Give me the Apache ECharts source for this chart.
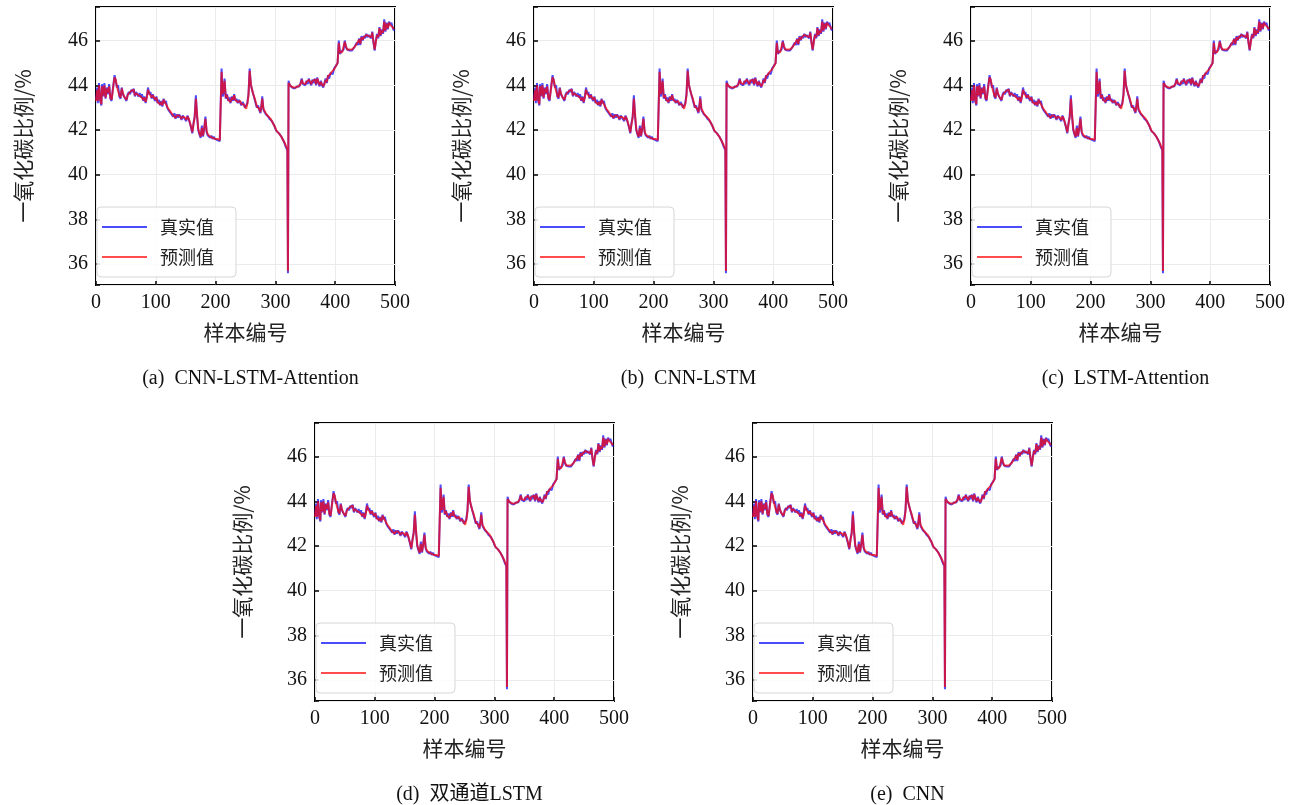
<!DOCTYPE html>
<html>
<head>
<meta charset="utf-8">
<script src="https://cdn.jsdelivr.net/npm/echarts@6/dist/echarts.min.js"></script>
<style>
  html, body { margin: 0; padding: 0; background: #fff; }
  #main { width: 1303px; height: 805px; }
</style>
</head>
<body>
<div id="main"></div>
<script>
// 数据：样本编号、真实值、预测值
var sampleNo = [
  0, 2, 3, 5, 7, 9, 10, 12, 14, 16,
  18, 20, 22, 24, 26, 28, 31, 33, 35, 37,
  39, 41, 43, 45, 47, 49, 51, 53, 55, 57,
  59, 61, 63, 65, 67, 69, 71, 73, 75, 77,
  79, 81, 83, 85, 87, 89, 91, 93, 95, 97,
  99, 101, 103, 105, 107, 109, 111, 113, 115, 117,
  119, 121, 123, 125, 127, 129, 131, 133, 135, 137,
  139, 141, 143, 145, 147, 149, 151, 153, 155, 157,
  159, 161, 163, 165, 167, 169, 171, 173, 175, 177,
  179, 181, 183, 185, 187, 189, 191, 193, 195, 197,
  199, 201, 203, 205, 207, 209, 210, 212, 214, 215,
  217, 219, 221, 223, 225, 227, 229, 231, 233, 235,
  237, 239, 241, 243, 245, 247, 249, 251, 253, 255,
  257, 259, 261, 263, 265, 267, 269, 271, 273, 275,
  277, 278, 280, 282, 284, 286, 288, 290, 292, 294,
  296, 298, 300, 302, 304, 306, 308, 310, 312, 314,
  316, 318, 320, 321, 322, 324, 326, 328, 330, 332,
  334, 336, 338, 340, 342, 344, 346, 348, 350, 352,
  354, 356, 358, 360, 362, 364, 366, 368, 370, 372,
  374, 376, 378, 380, 382, 384, 386, 388, 390, 392,
  394, 396, 398, 400, 402, 404, 406, 408, 410, 412,
  414, 416, 418, 420, 422, 424, 426, 428, 430, 432,
  434, 436, 438, 440, 442, 444, 446, 448, 450, 452,
  454, 456, 458, 460, 462, 464, 466, 468, 470, 472,
  474, 476, 478, 480, 482, 484, 486, 488, 490, 492,
  494, 496, 498, 499
];

var actualCO = [
  43.35, 43.9, 43.2, 44.1, 43.3, 43.1, 44.05, 43.5, 44.1, 43.4,
  43.9, 43.6, 44.05, 43.4, 43.3, 43.8, 44.45, 44.2, 43.9, 44.0,
  43.5, 43.4, 43.9, 43.6, 43.5, 43.4, 43.3, 43.6, 43.7, 43.6,
  43.8, 43.7, 43.85, 43.5, 43.7, 43.6, 43.5, 43.65, 43.45, 43.6,
  43.3, 43.5, 43.2, 43.5, 43.9, 43.6, 43.7, 43.4, 43.6, 43.4,
  43.3, 43.5, 43.2, 43.35, 43.1, 43.3, 43.05, 43.4, 43.2, 43.3,
  43.0, 42.9, 42.95, 42.75, 42.8, 42.6, 42.75, 42.5, 42.7, 42.55,
  42.7, 42.6, 42.45, 42.65, 42.55, 42.6, 42.4, 42.65, 42.5, 42.3,
  42.1, 41.85, 42.3, 42.6, 43.55, 42.6, 42.0, 41.8, 41.65, 42.2,
  41.7, 42.1, 42.6, 41.9, 41.75, 41.8, 41.65, 41.75, 41.6, 41.7,
  41.6, 41.65, 41.55, 41.6, 41.5, 41.45, 44.75, 43.5, 43.7, 44.3,
  43.4, 43.6, 43.3, 43.45, 43.2, 43.5, 43.3, 43.6, 43.3, 43.4,
  43.2, 43.35, 43.3, 43.1, 43.25, 43.15, 43.0, 42.95, 43.2, 43.6,
  44.75, 44.0, 43.8, 43.6, 43.4, 43.2, 43.0, 43.1, 42.9, 42.75,
  43.2, 43.5, 42.9, 42.95, 42.7, 42.75, 42.6, 42.5, 42.5, 42.4,
  42.3, 42.2, 42.05, 41.95, 41.9, 41.85, 41.8, 41.7, 41.6, 41.5,
  41.35, 41.2, 41.1, 35.6, 44.2, 44.0, 43.95, 43.9, 43.9, 43.85,
  43.9, 43.95, 44.0, 43.95, 44.1, 44.3, 44.05, 44.1, 44.0, 44.2,
  44.05, 44.3, 44.1, 44.0, 44.25, 44.1, 44.3, 44.0, 44.35, 44.1,
  43.95, 44.2, 44.0, 43.9, 44.1, 44.3, 44.1, 44.45, 44.3, 44.55,
  44.6, 44.5, 44.75, 44.8, 44.9, 45.0, 46.0, 45.4, 45.5, 45.45,
  45.6, 46.0, 45.7, 45.6, 45.65, 45.55, 45.6, 45.55, 45.6, 45.7,
  45.75, 45.9, 45.8, 46.1, 45.8, 46.2, 46.0, 46.2, 46.1, 46.3,
  46.15, 46.25, 46.3, 46.1, 46.4, 45.9, 45.55, 46.0, 46.3, 46.1,
  46.6, 46.2, 46.5, 46.3, 46.95, 46.4, 46.8, 46.5, 46.85, 46.7,
  46.8, 46.6, 46.45, 46.5
];

var predictedCO = [
  43.3, 43.8, 43.3, 44.0, 43.35, 43.15, 43.95, 43.55, 44.0, 43.45,
  43.85, 43.65, 43.95, 43.45, 43.35, 43.75, 44.35, 44.25, 43.95, 43.95,
  43.55, 43.45, 43.85, 43.65, 43.5, 43.45, 43.35, 43.55, 43.65, 43.6,
  43.75, 43.7, 43.8, 43.55, 43.65, 43.6, 43.55, 43.6, 43.5, 43.55,
  43.35, 43.45, 43.25, 43.45, 43.8, 43.65, 43.65, 43.45, 43.55, 43.45,
  43.35, 43.45, 43.25, 43.3, 43.15, 43.25, 43.1, 43.35, 43.25, 43.25,
  43.05, 42.95, 42.9, 42.8, 42.75, 42.65, 42.7, 42.55, 42.65, 42.6,
  42.65, 42.6, 42.5, 42.6, 42.6, 42.55, 42.45, 42.6, 42.5, 42.35,
  42.15, 41.9, 42.25, 42.55, 43.4, 42.7, 42.05, 41.85, 41.7, 42.1,
  41.75, 42.05, 42.5, 41.95, 41.8, 41.75, 41.7, 41.7, 41.65, 41.65,
  41.6, 41.6, 41.6, 41.55, 41.55, 41.5, 44.6, 43.6, 43.65, 44.2,
  43.45, 43.55, 43.35, 43.4, 43.25, 43.45, 43.35, 43.55, 43.35, 43.35,
  43.25, 43.3, 43.3, 43.15, 43.2, 43.15, 43.05, 42.95, 43.15, 43.55,
  44.65, 44.05, 43.8, 43.6, 43.45, 43.25, 43.05, 43.05, 42.95, 42.8,
  43.15, 43.4, 42.95, 42.9, 42.75, 42.7, 42.6, 42.55, 42.5, 42.4,
  42.3, 42.2, 42.1, 41.95, 41.9, 41.85, 41.8, 41.7, 41.6, 41.5,
  41.4, 41.25, 41.15, 35.7, 44.1, 44.05, 43.95, 43.9, 43.9, 43.9,
  43.9, 43.95, 43.95, 44.0, 44.05, 44.25, 44.1, 44.1, 44.05, 44.15,
  44.1, 44.25, 44.15, 44.05, 44.2, 44.15, 44.25, 44.05, 44.3, 44.15,
  44.0, 44.15, 44.05, 43.95, 44.05, 44.25, 44.15, 44.4, 44.35, 44.5,
  44.6, 44.55, 44.7, 44.8, 44.85, 45.0, 45.9, 45.45, 45.5, 45.5,
  45.55, 45.95, 45.75, 45.6, 45.65, 45.6, 45.6, 45.6, 45.6, 45.7,
  45.75, 45.85, 45.85, 46.05, 45.85, 46.15, 46.05, 46.15, 46.15, 46.25,
  46.2, 46.2, 46.25, 46.15, 46.35, 45.95, 45.6, 45.95, 46.25, 46.15,
  46.55, 46.25, 46.45, 46.35, 46.85, 46.45, 46.75, 46.55, 46.8, 46.7,
  46.75, 46.6, 46.5, 46.5
];

var panelTags = ['(a)', '(b)', '(c)', '(d)', '(e)'];
var modelNames = ['CNN-LSTM-Attention', 'CNN-LSTM', 'LSTM-Attention', '双通道LSTM', 'CNN'];
var seriesNames = ['真实值', '预测值'];

// 子图位置
var panelLeft = [96, 534, 971, 315, 753];
var panelTop = [7, 7, 7, 423, 423];
var W = 299, H = 278;

var serifFont = '"Liberation Serif", "Times New Roman", serif';
var cjkFont = '"Noto Sans CJK SC", sans-serif';

var chart = echarts.init(document.getElementById('main'));

var actualPts = sampleNo.map(function (x, i) { return [x, actualCO[i]]; });
var predPts = sampleNo.map(function (x, i) { return [x, predictedCO[i]]; });

var grids = [], xAxes = [], yAxes = [], series = [], legends = [], titles = [];

panelLeft.forEach(function (left, i) {
  var top = panelTop[i];
  grids.push({
    left: left, top: top, width: W, height: H,
    show: true, borderColor: '#000', borderWidth: 2, backgroundColor: 'transparent'
  });
  xAxes.push({
    type: 'value', gridIndex: i, min: 0, max: 500, interval: 100,
    name: '样本编号', nameLocation: 'middle', nameGap: 37,
    nameTextStyle: { fontFamily: cjkFont, fontSize: 21, color: '#222' },
    axisLine: { show: false },
    axisTick: { show: true, inside: true, length: 4, lineStyle: { color: '#000', width: 1.5 } },
    axisLabel: { fontFamily: serifFont, fontSize: 20, color: '#111', margin: 8 },
    splitLine: { show: true, lineStyle: { color: '#ebebeb', width: 1 } }
  });
  yAxes.push({
    type: 'value', gridIndex: i, min: 35.07, max: 47.5, splitNumber: 6,
    name: '一氧化碳比例/%', nameLocation: 'middle', nameGap: 62,
    nameTextStyle: { fontFamily: cjkFont, fontSize: 21, color: '#222' },
    axisLine: { show: false },
    axisTick: { show: true, inside: true, length: 4, lineStyle: { color: '#000', width: 1.5 } },
    axisLabel: {
      fontFamily: serifFont, fontSize: 20, color: '#111', margin: 8,
      formatter: function (v) {
        return Math.abs(v - Math.round(v)) < 1e-6 ? String(Math.round(v)) : '';
      }
    },
    splitLine: { show: true, lineStyle: { color: '#ebebeb', width: 1 } }
  });
  series.push({
    name: seriesNames[0], type: 'line', xAxisIndex: i, yAxisIndex: i,
    data: actualPts, symbol: 'none', animation: false,
    lineStyle: { color: 'rgba(0,0,255,0.7)', width: 2 },
    itemStyle: { color: 'rgba(0,0,255,0.7)' }
  });
  series.push({
    name: seriesNames[1], type: 'line', xAxisIndex: i, yAxisIndex: i,
    data: predPts, symbol: 'none', animation: false,
    lineStyle: { color: 'rgba(255,0,0,0.7)', width: 2 },
    itemStyle: { color: 'rgba(255,0,0,0.7)' }
  });
  legends.push({
    data: seriesNames, orient: 'vertical',
    left: left + 1, top: top + 200,
    itemWidth: 45, itemHeight: 20, itemGap: 10,
    padding: [10, 22, 10, 4],
    backgroundColor: 'rgba(255,255,255,0.85)',
    borderColor: '#d6d6d6', borderWidth: 1, borderRadius: 4,
    selectedMode: false,
    itemStyle: { opacity: 0 },
    lineStyle: { width: 2 },
    textStyle: { fontFamily: cjkFont, fontSize: 18, color: '#222', lineHeight: 20, padding: [0, 0, 0, 8] }
  });
  titles.push({
    text: panelTags[i] + '  ' + modelNames[i],
    left: left + W / 2, top: top + 357, textAlign: 'center',
    textStyle: { fontFamily: serifFont + ', ' + cjkFont, fontSize: 20, fontWeight: 'normal', color: '#111' }
  });
});

chart.setOption({
  animation: false,
  backgroundColor: '#fff',
  title: titles,
  grid: grids,
  xAxis: xAxes,
  yAxis: yAxes,
  legend: legends,
  series: series
});
</script>
</body>
</html>
